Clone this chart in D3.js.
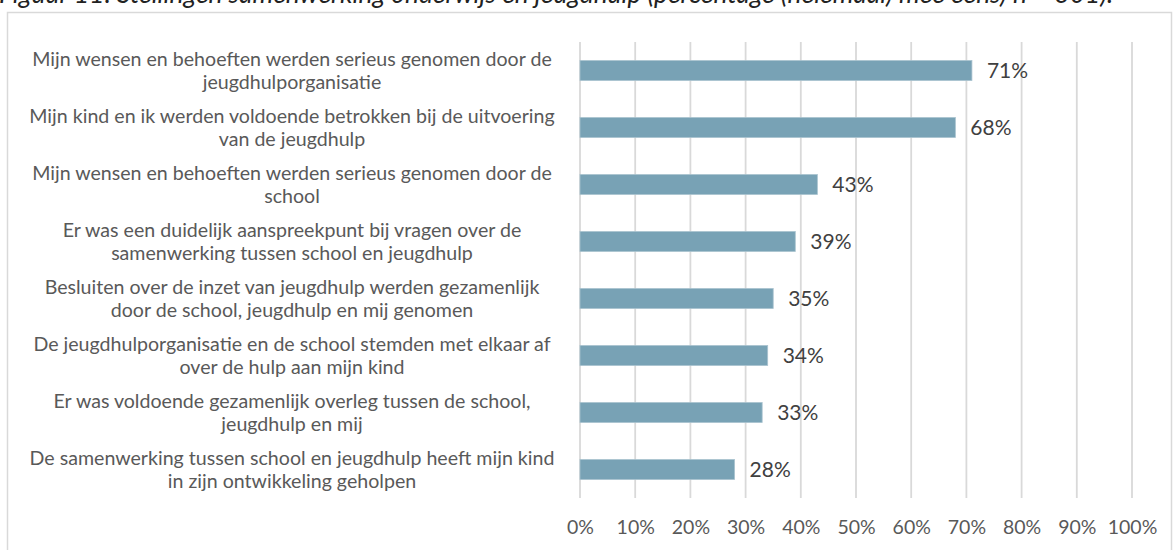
<!DOCTYPE html>
<html>
<head>
<meta charset="utf-8">
<script src="https://cdn.jsdelivr.net/npm/d3@7"></script>
<style>
  html, body { margin: 0; padding: 0; background: #fff; overflow: hidden; }
  svg { display: block; }
</style>
</head>
<body>
<svg id="chart" width="1176" height="550"></svg>
<script>
const titleText = "Figuur 11: Stellingen samenwerking onderwijs en jeugdhulp (percentage (helemaal) mee eens) n = 301).";
const categories = [
  ["Mijn wensen en behoeften werden serieus genomen door de", "jeugdhulporganisatie"],
  ["Mijn kind en ik werden voldoende betrokken bij de uitvoering", "van de jeugdhulp"],
  ["Mijn wensen en behoeften werden serieus genomen door de", "school"],
  ["Er was een duidelijk aanspreekpunt bij vragen over de", "samenwerking tussen school en jeugdhulp"],
  ["Besluiten over de inzet van jeugdhulp werden gezamenlijk", "door de school, jeugdhulp en mij genomen"],
  ["De jeugdhulporganisatie en de school stemden met elkaar af", "over de hulp aan mijn kind"],
  ["Er was voldoende gezamenlijk overleg tussen de school,", "jeugdhulp en mij"],
  ["De samenwerking tussen school en jeugdhulp heeft mijn kind", "in zijn ontwikkeling geholpen"]
];
const values = [0.71, 0.68, 0.43, 0.39, 0.35, 0.34, 0.33, 0.28];
const tickValues = [0, 0.1, 0.2, 0.3, 0.4, 0.5, 0.6, 0.7, 0.8, 0.9, 1.0];

const svg = d3.select("#chart");
const font = "Lato, 'Open Sans', sans-serif";

// outer frame
svg.append("rect")
  .attr("x", 7.5).attr("y", 12.5)
  .attr("width", 1164).attr("height", 600)
  .attr("fill", "none").attr("stroke", "#d9d9d9").attr("stroke-width", 1.5);

// cut-off title (the reference shows only its lower part)
svg.append("text")
  .attr("x", -1).attr("y", 3)
  .attr("font-family", font).attr("font-style", "italic")
  .attr("font-size", 26.3).attr("fill", "#222")
  .text(titleText);

const x = d3.scaleLinear().domain([0, 1]).range([580, 1132]);
const y = d3.scaleBand()
  .domain(d3.range(categories.length))
  .range([42, 498])
  .paddingInner(0.65).paddingOuter(0.325);

// gridlines
svg.append("g").selectAll("line")
  .data(tickValues).join("line")
  .attr("x1", d => x(d)).attr("x2", d => x(d))
  .attr("y1", 42).attr("y2", 498)
  .attr("stroke", "#d9d9d9").attr("stroke-width", 1.8);

// x axis labels
const xAxis = d3.axisBottom(x).tickValues(tickValues)
  .tickFormat(d3.format(".0%")).tickSize(0).tickPadding(0);
const gx = svg.append("g").attr("transform", "translate(0,520)").call(xAxis);
gx.select(".domain").remove();
gx.selectAll("text")
  .attr("font-family", font).attr("font-size", 19.5)
  .attr("fill", "#595959");

// bars
svg.append("g").selectAll("rect")
  .data(values).join("rect")
  .attr("x", x(0))
  .attr("y", (d, i) => y(i))
  .attr("width", d => x(d) - x(0))
  .attr("height", y.bandwidth())
  .attr("fill", "#78a2b5")
  .attr("stroke", "#a9c3cf").attr("stroke-width", 0.8);

// value labels
svg.append("g").selectAll("text")
  .data(values).join("text")
  .attr("x", d => x(d) + 15)
  .attr("y", (d, i) => y(i) + y.bandwidth() / 2)
  .attr("dy", "0.36em")
  .attr("font-family", font).attr("font-size", 21)
  .attr("fill", "#404040")
  .text(d => d3.format(".0%")(d));

// category labels
const cat = svg.append("g").selectAll("text")
  .data(categories).join("text")
  .attr("text-anchor", "middle")
  .attr("font-family", font).attr("font-size", 19.6)
  .attr("fill", "#595959");
cat.selectAll("tspan")
  .data((d, i) => d.map((line, j) => ({line, j, i})))
  .join("tspan")
  .attr("x", 292)
  .attr("y", d => y(d.i) + y.bandwidth() / 2 - 12 + d.j * 23.5)
  .attr("dy", "0.36em")
  .text(d => d.line);
</script>
</body>
</html>
